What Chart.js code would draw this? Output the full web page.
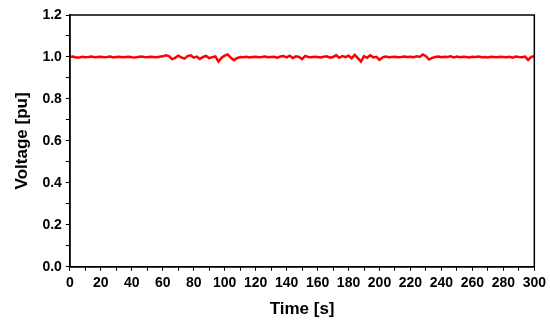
<!DOCTYPE html>
<html>
<head>
<meta charset="utf-8">
<script src="https://cdn.jsdelivr.net/npm/chart.js@4"></script>
<style>
  body { margin: 0; background: #fff; }
  #wrap { width: 550px; height: 322px; }
</style>
</head>
<body>
<div id="wrap"><canvas id="voltCanvas"></canvas></div>
<script>
// sampled every 2 s, 0..300 s
const timeStep = 2;
const voltage = [
  1.000, 1.002, 0.998, 0.997, 1.001, 0.999, 1.000, 1.002, 0.999, 1.000,
  1.001, 0.999, 1.000, 1.002, 0.998, 1.000, 1.001, 0.999, 1.000, 1.001,
  0.999, 0.998, 1.000, 1.002, 1.000, 0.999, 1.001, 1.000, 0.999, 1.001,
  1.003, 1.008, 1.004, 0.990, 0.996, 1.006, 0.998, 0.992, 1.004, 1.008,
  0.997, 1.002, 0.990, 1.000, 1.005, 0.994, 0.999, 1.003, 0.978, 0.996,
  1.006, 1.012, 0.996, 0.985, 0.995, 1.000, 0.999, 1.001, 0.998, 1.000,
  1.001, 0.999, 1.000, 1.002, 0.999, 1.000, 1.001, 0.997, 1.002, 1.004,
  0.998, 1.006, 0.995, 1.003, 1.000, 0.990, 1.005, 1.000, 0.999, 1.001,
  1.000, 0.998, 1.001, 1.003, 0.997, 1.000, 1.008, 0.996, 1.004, 0.999,
  1.006, 0.994, 1.010, 0.995, 0.978, 1.004, 0.996, 1.008, 0.998, 1.001,
  0.986, 0.998, 1.002, 0.999, 1.000, 1.001, 0.999, 1.000, 1.002, 1.000,
  1.001, 0.999, 1.003, 1.000, 1.012, 1.004, 0.988, 0.996, 1.000, 1.002,
  0.999, 1.001, 1.000, 1.003, 0.998, 1.002, 0.999, 1.001, 1.000, 0.998,
  1.001, 1.000, 1.002, 0.999, 1.000, 0.998, 1.001, 1.000, 0.999, 1.001,
  1.000, 0.999, 1.001, 0.997, 1.002, 1.000, 0.999, 1.002, 0.986, 1.000,
  1.004
];
const times = voltage.map((v, i) => i * timeStep);

const xTitle = "Time [s]";
const yTitle = "Voltage [pu]";

const points = times.map((t, i) => ({ x: t, y: voltage[i] }));

// box round the plot area
const frame = {
  id: "frame",
  afterDraw(chart) {
    const a = chart.chartArea;
    const ctx = chart.ctx;
    ctx.save();
    ctx.strokeStyle = "#000";
    ctx.lineWidth = 1.5;
    ctx.strokeRect(a.left, a.top, a.right - a.left, a.bottom - a.top);
    ctx.restore();
  }
};

const tickFont = { family: "Liberation Sans", size: 14, weight: "bold" };
const titleFont = { family: "Liberation Sans", size: 17, weight: "bold" };

new Chart(document.getElementById("voltCanvas"), {
  type: "line",
  data: {
    datasets: [{
      data: points,
      borderColor: "#ff0000",
      borderWidth: 2.5,
      pointRadius: 0,
      tension: 0
    }]
  },
  options: {
    responsive: true,
    maintainAspectRatio: false,
    animation: false,
    layout: { padding: { top: 15, right: 14, left: 12, bottom: 1 } },
    plugins: { legend: { display: false }, tooltip: { enabled: false } },
    scales: {
      x: {
        type: "linear",
        min: 0,
        max: 300,
        ticks: {
          stepSize: 10,
          autoSkip: false,
          maxRotation: 0,
          color: "#000",
          font: tickFont,
          padding: 4,
          callback: v => (v % 20 === 0 ? v : "")
        },
        grid: { drawOnChartArea: false, tickLength: 4, color: "#000", tickColor: "#000" },
        border: { color: "#000", width: 1.5 },
        title: { display: true, text: xTitle, color: "#000", font: titleFont, padding: { top: 4, bottom: 1 } }
      },
      y: {
        min: 0,
        max: 1.2,
        ticks: {
          stepSize: 0.1,
          autoSkip: false,
          color: "#000",
          font: tickFont,
          padding: 4,
          callback: v => (Math.round(v * 10) % 2 === 0 ? v.toFixed(1) : "")
        },
        grid: { drawOnChartArea: false, tickLength: 4, color: "#000", tickColor: "#000" },
        border: { color: "#000", width: 1.5 },
        title: { display: true, text: yTitle, color: "#000", font: titleFont, padding: { top: 0, bottom: 6 } }
      }
    }
  },
  plugins: [frame]
});
</script>
</body>
</html>
